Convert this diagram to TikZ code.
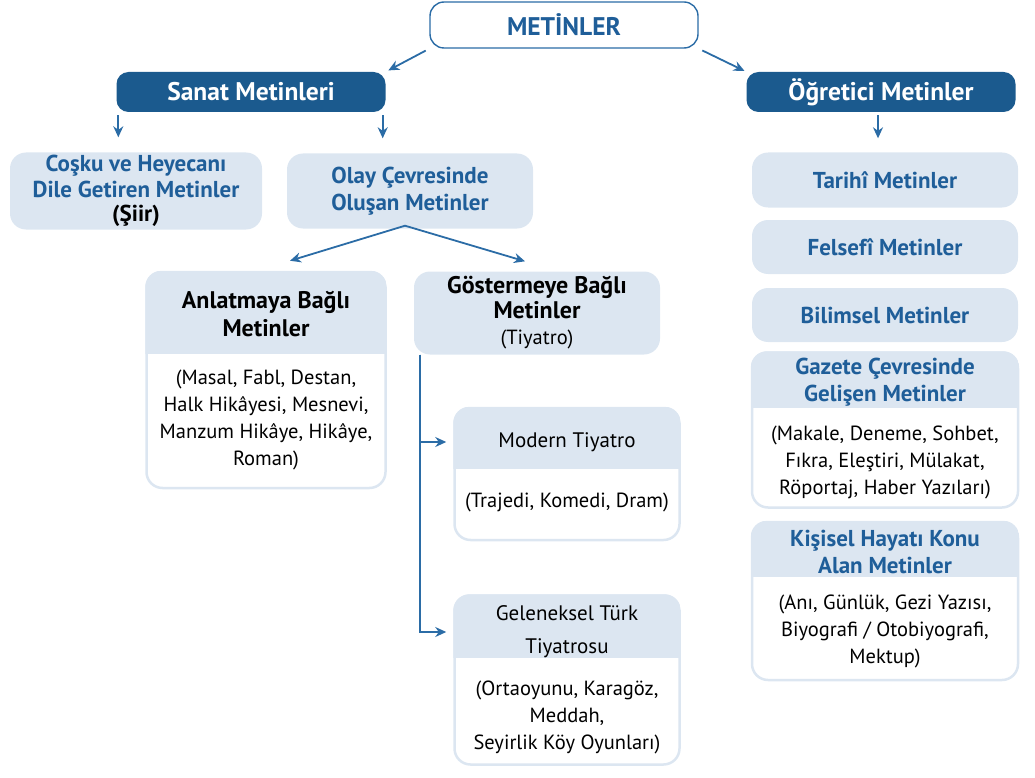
\documentclass[tikz,border=0pt]{standalone}
\usepackage{fontspec}
\setmainfont{PT Sans}
\usepackage{tikz}
\usetikzlibrary{calc, arrows, arrows.meta}
\definecolor{darkblue}{HTML}{1B5A8E}
\definecolor{textblue}{HTML}{1F5E99}
\definecolor{paleblue}{HTML}{DCE6F1}
\definecolor{lineblue}{HTML}{2B6CA6}
\newcommand{\topfont}{\bfseries\fontsize{25.5}{30}\selectfont}
\newcommand{\headfont}{\bfseries\fontsize{23}{26}\selectfont}
\newcommand{\blackfont}{\bfseries\fontsize{24}{28}\selectfont}
\newcommand{\bodyfont}{\fontsize{20.5}{27}\selectfont}
\tikzstyle{root}     = [rectangle, rounded corners=14, draw=lineblue, line width=1.4, fill=white, minimum width=268, minimum height=46, text=textblue, font=\topfont]
\tikzstyle{group}    = [rectangle, rounded corners=12, fill=darkblue, text=white, minimum width=269, minimum height=40, font=\topfont]
\tikzstyle{pale}     = [rectangle, rounded corners=16, fill=paleblue, text=textblue, align=center, font=\headfont, inner sep=0]
\tikzstyle{card}     = [rectangle, rounded corners=16, draw=paleblue, line width=2.5, fill=white, inner sep=0]
\tikzstyle{headtext} = [align=center, font=\blackfont, text=black]
\tikzstyle{bodytext} = [align=center, font=\bodyfont, text=black]
\tikzstyle{arrow}    = [lineblue, line width=1.8pt, -{Stealth[length=11pt, width=10pt]}]
% pale top band of a card: #1 card node, #2 band height
\newcommand{\cardhead}[2]{%
  \begin{scope}
    \clip[rounded corners=16] (#1.south west) rectangle (#1.north east);
    \fill[paleblue] (#1.north west) rectangle ($(#1.north east)+(0,#2)$);
  \end{scope}}

\begin{document}
\begin{tikzpicture}[x=1pt, y=-1pt]
      \useasboundingbox (0,0) rectangle (1035,778);

      \node (root)     [root]  at (564,25) {METİNLER};
      \node (sanat)    [group] at (251,92) {Sanat Metinleri};
      \node (ogretici) [group] at (881,92) {Öğretici Metinler};

      % sanat metinleri
      \node (cosku) [pale, minimum width=252, minimum height=77] at (136,191)
            {Coşku ve Heyecanı\\Dile Getiren Metinler\\[-2pt]\textcolor{black}{(Şiir)}};
      \node (olay)  [pale, minimum width=246, minimum height=75] at (410,191)
            {Olay Çevresinde\\[1pt]Oluşan Metinler};

      \node (anlat) [card, minimum width=239, minimum height=216] at (266,380) {};
      \cardhead{anlat}{83}
      \node (anlatH) [headtext] at (266,314) {Anlatmaya Bağlı\\Metinler};
      \node (anlatB) [bodytext] at (266,420)
            {(Masal, Fabl, Destan,\\Halk Hikâyesi, Mesnevi,\\Manzum Hikâye, Hikâye,\\Roman)};

      \node (goster) [pale, text=black, font=\blackfont, minimum width=246, minimum height=83] at (537,313)
            {Göstermeye Bağlı\\[-3pt]Metinler\\[-2pt]{\mdseries\bodyfont (Tiyatro)}};

      \node (modern) [card, minimum width=225, minimum height=132] at (567,474) {};
      \cardhead{modern}{62}
      \node (modernH) [bodytext, font=\fontsize{21}{27}\selectfont] at (567,442) {Modern Tiyatro};
      \node (modernB) [bodytext] at (567,502) {(Trajedi, Komedi, Dram)};

      \node (gelen) [card, minimum width=225, minimum height=169] at (567,680) {};
      \cardhead{gelen}{64}
      \node (gelenH) [bodytext, font=\fontsize{21}{27}\selectfont] at (567,632) {Geleneksel Türk\\[6pt]Tiyatrosu};
      \node (gelenB) [bodytext] at (567,717) {(Ortaoyunu, Karagöz,\\Meddah,\\Seyirlik Köy Oyunları)};

      % ogretici metinler
      \node (tarihi)   [pale, minimum width=266, minimum height=55] at (885,180) {Tarihî Metinler};
      \node (felsefi)  [pale, minimum width=266, minimum height=54, below of=tarihi, node distance=67] {Felsefî Metinler};
      \node (bilimsel) [pale, minimum width=266, minimum height=54, below of=felsefi, node distance=68] {Bilimsel Metinler};

      \node (gazete) [card, minimum width=266, minimum height=155] at (885,430) {};
      \cardhead{gazete}{57}
      \node (gazeteH) [pale, fill=none] at (885,382) {Gazete Çevresinde\\[1pt]Gelişen Metinler};
      \node (gazeteB) [bodytext] at (885,462) {(Makale, Deneme, Sohbet,\\Fıkra, Eleştiri, Mülakat,\\Röportaj, Haber Yazıları)};

      \node (kisisel) [card, minimum width=266, minimum height=158] at (885,601) {};
      \cardhead{kisisel}{56}
      \node (kisiselH) [pale, fill=none] at (885,552) {Kişisel Hayatı Konu\\[1pt]Alan Metinler};
      \node (kisiselB) [bodytext] at (885,631) {(Anı, Günlük, Gezi Yazısı,\\Biyografi / Otobiyografi,\\Mektup)};

      \draw [arrow, shorten <=4, shorten >=3] (root.south west) -- (sanat.north east);
      \draw [arrow, shorten <=4, shorten >=2] (root.south east) -- (ogretici.north west);

      \draw [arrow, shorten <=3, shorten >=15] ([xshift=2]sanat.south west) -- ([xshift=2]sanat.south west |- cosku.north);
      \draw [arrow, shorten <=3, shorten >=15] ([xshift=-3]sanat.south east) -- ([xshift=-3]sanat.south east |- olay.north);
      \draw [arrow, shorten <=3, shorten >=14] ([xshift=-3]ogretici.south) -- ([xshift=-3]ogretici.south |- tarihi.north);

      \draw [arrow] ([xshift=-5,yshift=3]olay.south) -- ($(anlat.north)+(24,-10)$);
      \draw [arrow] ([xshift=-5,yshift=3]olay.south) -- ($(goster.north)+(-12,-10)$);

      \draw [arrow] ([xshift=6]goster.south west) |- ([xshift=-7]modern.west |- modernH);
      \draw [arrow] ([xshift=6]goster.south west) |- ([xshift=-7]gelen.west |- gelenH);

    \end{tikzpicture}
\end{document}
